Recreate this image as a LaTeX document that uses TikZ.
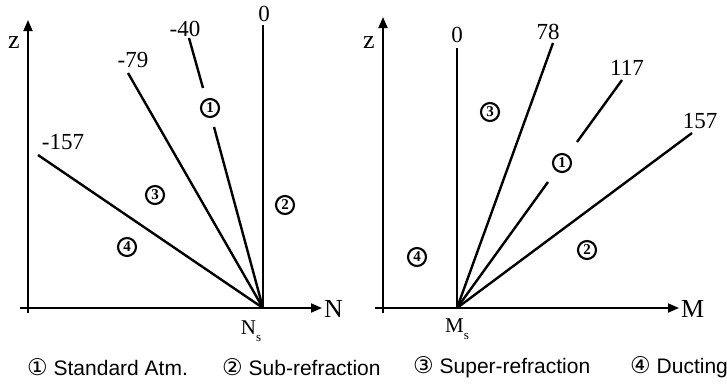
\documentclass[tikz,border=0pt]{standalone}
\usepackage{fontspec}
\setmainfont{Liberation Serif}
\newfontfamily\legfont{Liberation Sans}
\newfontfamily\symfont{DejaVu Sans}
\usetikzlibrary{arrows.meta}
\begin{document}
\begin{tikzpicture}[x=1pt,y=-1pt,
  axis/.style={line width=1.8pt,-{Triangle[length=11pt,width=9pt]}},
  ray/.style={line width=2.4pt},
  num/.style={font=\fontsize{23}{23}\selectfont,inner sep=0pt},
  axlab/.style={font=\fontsize{26}{26}\selectfont,inner sep=0pt},
  sublab/.style={font=\fontsize{21}{21}\selectfont,inner sep=0pt},
  circ/.style={circle,draw,line width=2.1pt,minimum size=18pt,inner sep=0pt,font=\bfseries\fontsize{15}{15}\selectfont},
  leg/.style={anchor=west,inner sep=0pt,font=\legfont\fontsize{21}{21}\selectfont}]
\useasboundingbox (0,0) rectangle (727,386);
% ---------- left panel ----------
\coordinate (NS) at (263,308);
\coordinate (zLb) at (28,313);
\coordinate (zLt) at (28,20);
\coordinate (xLa) at (20,308);
\coordinate (xLb) at (322,308);
\draw[axis] (zLb) -- (zLt);
\draw[axis] (xLa) -- (xLb);
\node[axlab] (zL) at (14,43) {z};
\node[axlab,anchor=west] (NL) at (324,309) {N};
\node[sublab] (NsL) at (251,331) {N\raisebox{-0.35em}{\fontsize{13}{13}\selectfont s}};
% rays
\coordinate (L0) at (263,25);
\coordinate (L40) at (189,38);
\coordinate (L40a) at (203,88);
\coordinate (L40b) at (214,127);
\coordinate (L79) at (128,73);
\coordinate (L157) at (38,155);
\draw[ray] (NS) -- (L0);
\draw[ray] (L40) -- (L40a);
\draw[ray] (L40b) -- (NS);
\draw[ray] (NS) -- (L79);
\draw[ray] (NS) -- (L157);
\node[num] (t0) at (264,14) {0};
\node[num] (t40) at (185,29) {-40};
\node[num] (t79) at (133,60) {-79};
\node[num] (t157) at (63,142) {-157};
\node[circ] (c1L) at (210,108) {1};
\node[circ] (c3L) at (155,195) {3};
\node[circ] (c2L) at (285,205) {2};
\node[circ] (c4L) at (127,247) {4};
% ---------- right panel ----------
\coordinate (MS) at (457,308);
\coordinate (zRb) at (383,313);
\coordinate (zRt) at (383,17);
\coordinate (xRa) at (375,308);
\coordinate (xRb) at (679,308);
\draw[axis] (zRb) -- (zRt);
\draw[axis] (xRa) -- (xRb);
\node[axlab] (zR) at (369,43) {z};
\node[axlab,anchor=west] (ML) at (681,309) {M};
\node[sublab] (MsL) at (457,329) {M\raisebox{-0.35em}{\fontsize{13}{13}\selectfont s}};
\coordinate (R0) at (457,48);
\coordinate (R78) at (553,43);
\coordinate (R117) at (622,80);
\coordinate (R117a) at (577,142);
\coordinate (R117b) at (548,182);
\coordinate (R157) at (692,133);
\draw[ray] (MS) -- (R0);
\draw[ray] (MS) -- (R78);
\draw[ray] (R117) -- (R117a);
\draw[ray] (R117b) -- (MS);
\draw[ray] (MS) -- (R157);
\node[num] (u0) at (457,35) {0};
\node[num] (u78) at (548,32) {78};
\node[num] (u117) at (627,68) {117};
\node[num] (u157) at (700,121) {157};
\node[circ] (c3R) at (490,112) {3};
\node[circ] (c1R) at (562,163) {1};
\node[circ] (c2R) at (587,250) {2};
\node[circ] (c4R) at (417,257) {4};
% ---------- legend ----------
\node[leg] (lg1) at (27,367) {{\symfont\fontsize{23}{23}\selectfont ①} Standard Atm.};
\node[leg] (lg2) at (222,367) {{\symfont\fontsize{23}{23}\selectfont ②} Sub-refraction};
\node[leg] (lg3) at (413,367) {{\symfont\fontsize{23}{23}\selectfont ③} Super-refraction};
\node[leg] (lg4) at (630,367) {{\symfont\fontsize{23}{23}\selectfont ④} Ducting};
\end{tikzpicture}
\end{document}
